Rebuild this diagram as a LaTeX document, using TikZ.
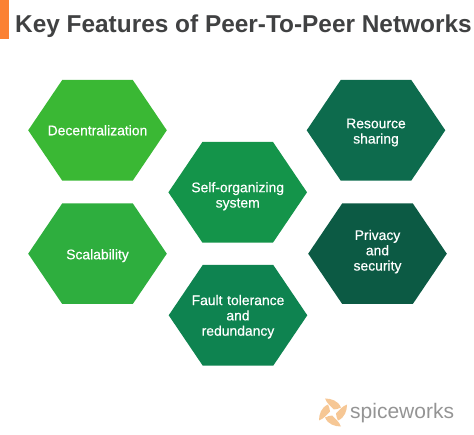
\documentclass[tikz,border=0pt]{standalone}
\usepackage{fontspec}
\setmainfont{Liberation Sans}
\newfontface\hexfont{Liberation Sans}[FakeBold=0.5]
\definecolor{titlegray}{HTML}{404142}
\definecolor{barorange}{HTML}{FB8133}
\definecolor{petal}{HTML}{F6C795}
\begin{document}
\begin{tikzpicture}[x=1pt,y=-1pt,
  nudgedown/.style={execute at begin node={\rule{0pt}{#1}}},
  nudgeup/.style={execute at end node={\rule[-#1]{0pt}{#1}}},
  hexbox/.style={rectangle,text=white,inner sep=0pt,outer sep=0pt,minimum width=138.6pt,minimum height=100.6pt,
    text width=120pt,align=center,font=\fontsize{13.9}{15.3}\hexfont,
    path picture={\fill[#1] (path picture bounding box.west)
      -- ([xshift=34pt]path picture bounding box.north west)
      -- ([xshift=-34pt]path picture bounding box.north east)
      -- (path picture bounding box.east)
      -- ([xshift=-34pt]path picture bounding box.south east)
      -- ([xshift=34pt]path picture bounding box.south west) -- cycle;}}]
\useasboundingbox (0,0) rectangle (474,435);
\fill[barorange] (0,0) rectangle (9,39);
\node[anchor=base west,inner sep=0pt,text=titlegray,font=\fontsize{24.4}{28}\selectfont\bfseries] (title) at (15,32.7) {Key Features of Peer-To-Peer Networks};
\node[hexbox={fill={rgb,255:red,58;green,184;blue,52}}] (decent) at (97.5,130.3) {Decentralization};
\node[hexbox={fill={rgb,255:red,46;green,174;blue,62}},nudgedown=14pt] (scale) at (97.5,253.7) {Scalability};
\node[hexbox={fill={rgb,255:red,20;green,148;blue,74}},nudgedown=18pt] (selforg) at (237.7,192.3) {Self-organizing\\system};
\node[hexbox={fill={rgb,255:red,14;green,131;blue,80}},nudgedown=13pt] (fault) at (238,315.3) {Fault tolerance\\and\\redundancy};
\node[hexbox={fill={rgb,255:red,13;green,107;blue,77}},nudgedown=14pt] (resource) at (376,130.3) {Resource\\sharing};
\node[hexbox={fill={rgb,255:red,12;green,90;blue,68}},nudgeup=7pt] (privacy) at (377.5,253.7) {Privacy\\and\\security};
\node[anchor=base west,inner sep=0pt,text=black!42,font=\fontsize{21}{24}\selectfont] (logo) at (350,419) {spiceworks};
% logo swirl
\foreach \turn in {0,90,180,270} {
  \fill[petal,shift={(333,412.5)},rotate=\turn] (1,-3) .. controls (-3,-7) and (-6,-9) .. (-8,-14) .. controls (-2,-14) and (5,-12) .. (8,-5) .. controls (6,-4) and (3,-3) .. (1,-3) -- cycle;
}
\end{tikzpicture}
\end{document}
